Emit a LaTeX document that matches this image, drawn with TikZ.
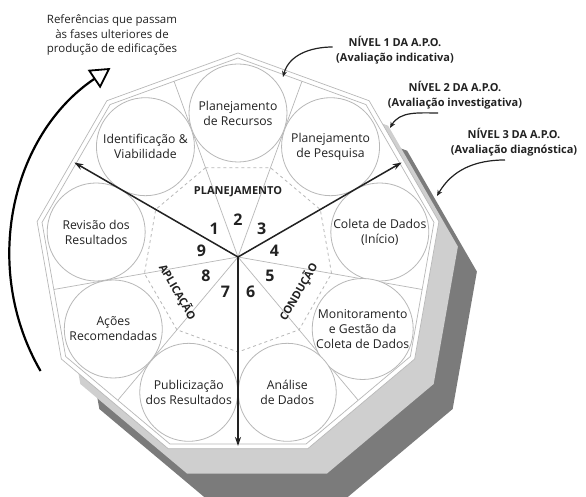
\documentclass[tikz,border=0pt]{standalone}
\usepackage{fontspec}
\setmainfont{Open Sans}
\usepackage{tikz}
\usetikzlibrary{arrows.meta, calc}
\definecolor{banddark}{HTML}{7B7B7B}
\definecolor{bandlight}{HTML}{CFCFCF}
\definecolor{rimgray}{HTML}{B8B8B8}
\definecolor{darkink}{HTML}{222222}

\begin{document}
\begin{tikzpicture}[x=1pt, y=1pt,
    every node/.style={font=\fontsize{12.2}{15}\selectfont, text=darkink},
    stagecircle/.style={circle, draw=rimgray, fill=white, line width=0.8pt,
      minimum size=98pt, inner sep=0pt, align=center},
    phasenum/.style={font=\fontsize{16}{18}\selectfont\bfseries, inner sep=1pt},
    phasename/.style={font=\fontsize{11}{12}\selectfont\bfseries, inner sep=1pt},
    levelnote/.style={font=\fontsize{11}{15}\selectfont\bfseries, align=center},
    levelarrow/.style={-{Stealth[length=6pt, width=5pt]}, line width=1.2pt, darkink},
    phasearrow/.style={-{Stealth[length=9pt, width=6pt]}, line width=1.5pt, darkink}]
  \useasboundingbox (-238,-240) rectangle (348,257);
  \coordinate (ctr) at (0,0);

  % ── Stacked levels: dark, light, white face (R = 204) ──────────────────
  \foreach \dx/\dy/\col in {38/-50/banddark, 19/-25/bandlight, 0/0/white}{
    \fill[\col] ($(\dx,\dy)+(90:204)$)
      \foreach \a in {130,170,...,410}{ -- ($(\dx,\dy)+(\a:204)$)} -- cycle;
  }
  \draw[rimgray, line width=0.7pt] (90:204) \foreach \a in {130,170,...,410}{ -- (\a:204)} -- cycle;
  \draw[rimgray, line width=0.7pt] (90:199) \foreach \a in {130,170,...,410}{ -- (\a:199)} -- cycle;

  % ── Sector lines and dashed inner ring ──────────────────────────────────
  \foreach \a in {110,150,...,430}{
    \draw[rimgray, line width=0.7pt] (ctr) -- (\a:187);
  }
  \draw[rimgray, line width=0.8pt, dash pattern=on 3pt off 3pt]
    (110:95) \foreach \a in {150,190,...,450}{ -- (\a:95)} -- cycle;

  % ── Nine stages (circles at r = 144) ────────────────────────────────────
  \node[stagecircle] (recursos)  at (90:144)  {Planejamento\\de Recursos};
  \node[stagecircle] (pesquisa)  at (50:144)  {Planejamento\\de Pesquisa};
  \node[stagecircle] (coleta)    at (10:144)  {Coleta de Dados\\(Início)};
  \node[stagecircle] (monitor)   at (-30:144) {Monitoramento\\e Gestão da\\Coleta de Dados};
  \node[stagecircle] (analise)   at (-70:144) {Análise\\de Dados};
  \node[stagecircle] (publica)   at (-110:144) {Publicização\\dos Resultados};
  \node[stagecircle] (acoes)     at (-150:144) {Ações\\Recomendadas};
  \node[stagecircle] (revisao)   at (170:144) {Revisão dos\\Resultados};
  \node[stagecircle] (ident)     at (130:144) {Identificação \&\\Viabilidade};

  % ── Step numbers and phase names ────────────────────────────────────────
  \foreach \n/\a in {1/130, 2/90, 3/50, 4/10, 5/-30, 6/-70, 7/-110, 8/-150, 9/170}{
    \node[phasenum] (num\n) at (\a:37) {\n};
  }
  \node[phasename] (planej) at (90:65) {PLANEJAMENTO};
  \node[phasename, rotate=60] (conduc) at (-30:70) {CONDUÇÃO};
  \node[phasename, rotate=-60] (aplic) at (210:70) {APLICAÇÃO};

  % ── Phase borders (thick arrows) ────────────────────────────────────────
  \coordinate (endplan) at (150:189);
  \coordinate (endcond) at (30:189);
  \coordinate (endapl)  at (270:189);
  \draw[phasearrow] (ctr) -- (endplan);
  \draw[phasearrow] (ctr) -- (endcond);
  \draw[phasearrow] (ctr) -- (endapl);

  % ── Level notes (top right) ─────────────────────────────────────────────
  \node[levelnote] (lvlone)   at (157,207)   {NÍVEL 1 DA A.P.O.\\(Avaliação indicativa)};
  \node[levelnote] (lvltwo)   at (217,161.5) {NÍVEL 2 DA A.P.O.\\(Avaliação investigativa)};
  \node[levelnote] (lvlthree) at (276,114.5) {NÍVEL 3 DA A.P.O.\\(Avaliação diagnóstica)};
  \coordinate (tipone)   at (45,180);
  \coordinate (tiptwo)   at (152,129);
  \coordinate (tipthree) at (199,61);
  \draw[levelarrow] ([yshift=3pt]lvlone.west) to[out=180, in=75] (tipone);
  \draw[levelarrow] ([xshift=-17pt]lvltwo.south) to[out=180, in=60] (tiptwo);
  \draw[levelarrow] ([xshift=-9pt]lvlthree.south) to[out=180, in=60] (tipthree);

  % ── Feedback arc (left) ─────────────────────────────────────────────────
  \node[align=center, font=\fontsize{11.5}{14.5}\selectfont] (refnote) at (-126,222)
    {Referências que passam\\às fases ulteriores de\\produção de edificações};
  \coordinate (arcstart) at (210:228);
  \draw[line width=2.2pt, -{Triangle[open, length=20pt, width=22pt, line width=1.8pt]}]
    (arcstart) arc[start angle=210, end angle=124, radius=228];
\end{tikzpicture}
\end{document}
